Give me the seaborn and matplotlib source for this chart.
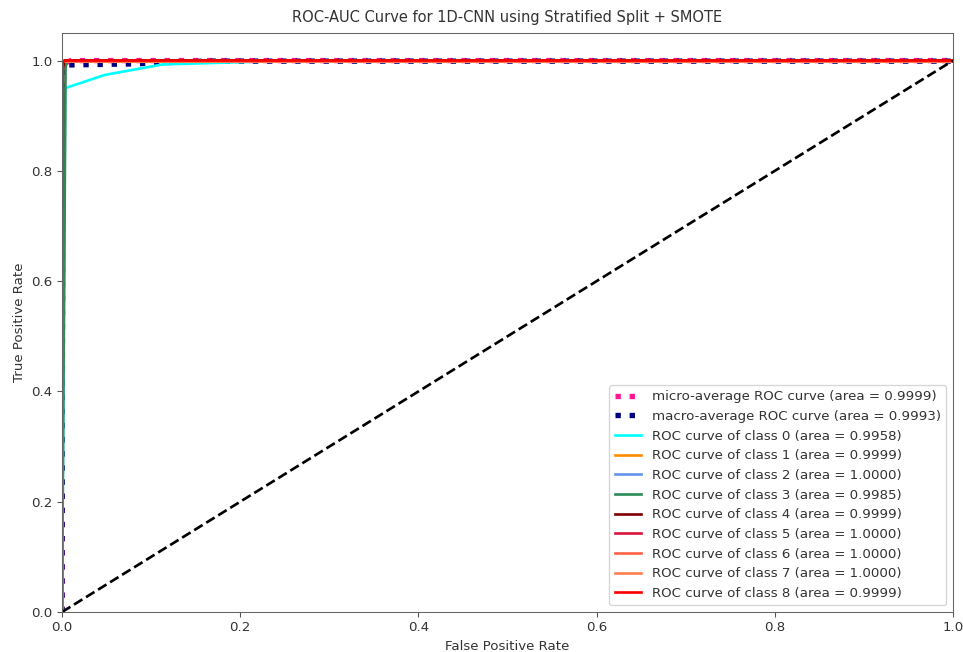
import numpy as np
import matplotlib
matplotlib.use("Agg")
import matplotlib.pyplot as plt
import seaborn as sns

#–----------------------------------------------------------------------------
# values

fpr_micro = [0.0, 0.0, 0.0005, 0.002, 0.01, 1.0]
tpr_micro = [0.0, 0.90, 0.98, 0.995, 1.0, 1.0]
fpr_macro = [0.0, 0.001, 0.005, 0.08, 0.16, 1.0]
tpr_macro = [0.0, 0.985, 0.992, 0.994, 0.999, 0.999]

fpr_cls = [
    [0.0, 0.0035, 0.048, 0.113, 0.26, 1.0],   # class 0
    [0.0, 0.0005, 0.002, 1.0],                # class 1
    [0.0, 0.0, 1.0],                          # class 2
    [0.0, 0.004, 0.006, 1.0],                 # class 3
    [0.0, 0.001, 0.003, 1.0],                 # class 4
    [0.0, 0.0, 1.0],                          # class 5
    [0.0, 0.0, 1.0],                          # class 6
    [0.0, 0.0, 1.0],                          # class 7
    [0.0, 0.0005, 0.003, 1.0],                # class 8
]
tpr_cls = [
    [0.0, 0.95, 0.974, 0.993, 1.0, 1.0],
    [0.0, 0.99, 1.0, 1.0],
    [0.0, 1.0, 1.0],
    [0.0, 0.987, 1.0, 1.0],
    [0.0, 0.985, 1.0, 1.0],
    [0.0, 1.0, 1.0],
    [0.0, 1.0, 1.0],
    [0.0, 1.0, 1.0],
    [0.0, 0.995, 1.0, 1.0],
]
auc_cls = [0.9958, 0.9999, 1.0000, 0.9985, 0.9999, 1.0000, 1.0000, 1.0000, 0.9999]
auc_micro = 0.9999
auc_macro = 0.9993

colors = ['aqua', 'darkorange', 'cornflowerblue', 'seagreen', 'maroon',
          'crimson', 'tomato', 'coral', 'red']

#–----------------------------------------------------------------------------

plt.rcParams['text.color'] = '#333333'
plt.rcParams['axes.labelcolor'] = '#333333'
plt.rcParams['xtick.color'] = '#555555'
plt.rcParams['ytick.color'] = '#555555'
plt.rcParams['xtick.labelcolor'] = '#333333'
plt.rcParams['ytick.labelcolor'] = '#333333'
plt.rcParams['axes.edgecolor'] = '#666666'

fig = plt.figure(figsize=(963 / 96, 652 / 96), dpi=96)
ax = fig.add_axes([62 / 963, 40 / 652, (953 - 62) / 963, (612 - 33) / 652])

sns.lineplot(x=fpr_micro, y=tpr_micro, ax=ax, estimator=None, sort=False,
             color='deeppink', linestyle=':', linewidth=4,
             label='micro-average ROC curve (area = {0:0.4f})'.format(auc_micro))
sns.lineplot(x=fpr_macro, y=tpr_macro, ax=ax, estimator=None, sort=False,
             color='navy', linestyle=':', linewidth=4,
             label='macro-average ROC curve (area = {0:0.4f})'.format(auc_macro))

for i, col in enumerate(colors):
    sns.lineplot(x=fpr_cls[i], y=tpr_cls[i], ax=ax, estimator=None, sort=False,
                 color=col, linewidth=2,
                 label='ROC curve of class {0} (area = {1:0.4f})'.format(i, auc_cls[i]))

ax.plot([0, 1], [0, 1], 'k--', lw=2)
ax.set_xlim([0.0, 1.0])
ax.set_ylim([0.0, 1.05])
ax.set_xlabel('False Positive Rate')
ax.set_ylabel('True Positive Rate')
ax.set_title('ROC-AUC Curve for 1D-CNN using Stratified Split + SMOTE', fontsize=11, pad=8)
ax.legend(loc='lower right')

fig.savefig('out.png', dpi=96)
